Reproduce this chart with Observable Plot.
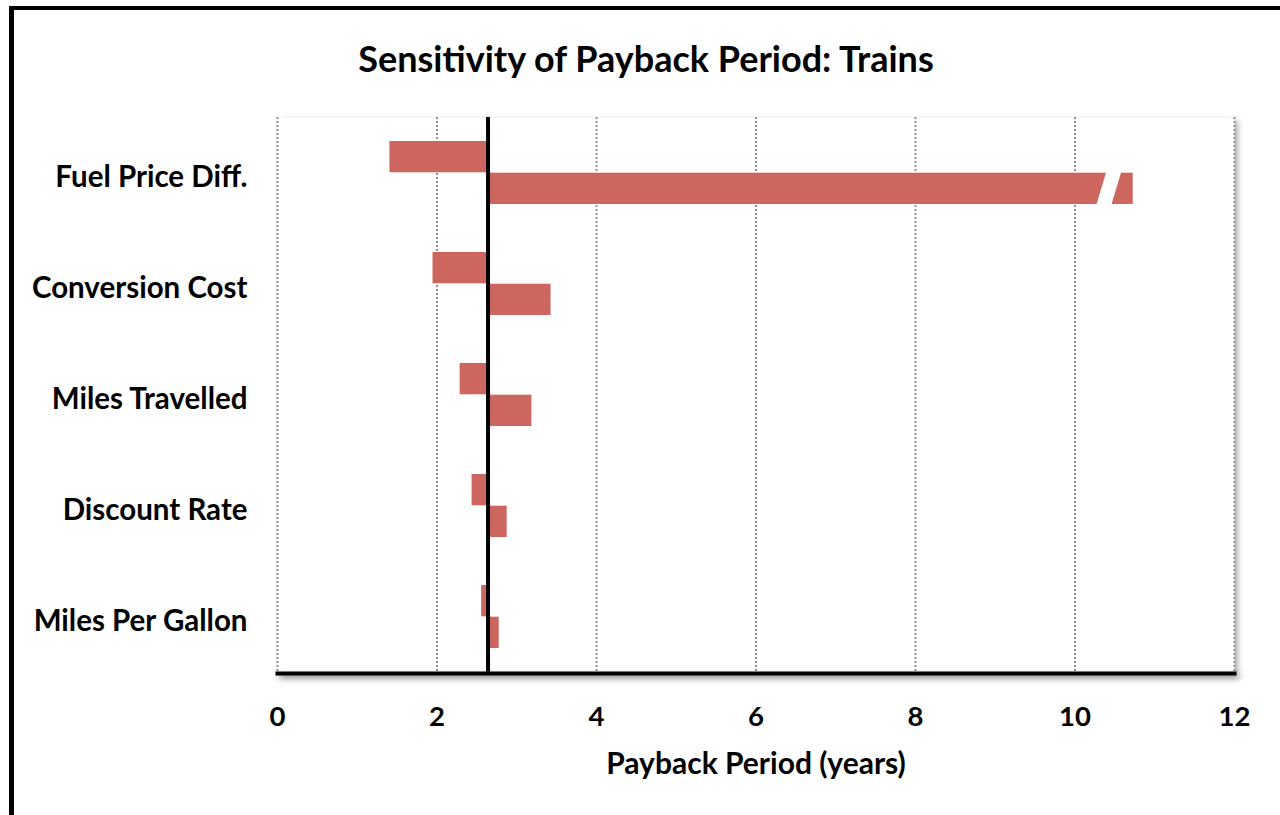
<!DOCTYPE html>
<html><head><meta charset="utf-8">
<script src="https://cdn.jsdelivr.net/npm/d3@7"></script>
<script src="https://cdn.jsdelivr.net/npm/@observablehq/plot@0.6"></script>
<style>
html,body{margin:0;padding:0;background:#fff;overflow:hidden;width:1280px;height:815px;}
#border{position:absolute;left:9px;top:6px;width:1400px;height:900px;border-left:5px solid #000;border-top:4px solid #000;}
#title{position:absolute;left:0;top:40px;width:1292px;text-align:center;font-family:Lato, sans-serif;font-weight:bold;font-size:36px;line-height:36px;color:#000;}
#chart{position:absolute;left:0;top:0;}
</style></head><body>
<div id="border"></div>
<div id="title">Sensitivity of Payback Period: Trains</div>
<div id="chart"></div>
<script>
const categories = ["Fuel Price Diff.", "Conversion Cost", "Miles Travelled", "Discount Rate", "Miles Per Gallon"];
const lowValues = [1.41, 1.95, 2.29, 2.44, 2.56];
const highValues = [10.73, 3.43, 3.19, 2.88, 2.78];
const baseValue = 2.64;
const xTicks = [0, 2, 4, 6, 8, 10, 12];
const breakCategory = "Fuel Price Diff.";
const breakValue = 10.43;
const xLabel = "Payback Period (years)";

const barColor = "#CD665F";
const W = 1280, H = 815, mt = 117, mb = 142, ml = 277, mr = 46;
const padIn = 0.43, padOut = 0.215;
const step = (H - mt - mb) / (categories.length - padIn + 2 * padOut);
const bw = step * (1 - padIn);
const half = bw / 2;

const rows = categories.map((c, i) => ({category: c, low: lowValues[i], high: highValues[i]}));

const plot = Plot.plot({
  width: W, height: H,
  marginTop: mt, marginBottom: mb, marginLeft: ml, marginRight: mr,
  style: {fontFamily: "Lato, sans-serif", color: "black", background: "transparent", overflow: "visible"},
  x: {domain: [0, 12]},
  y: {domain: categories, paddingInner: padIn, paddingOuter: padOut},
  marks: [
    Plot.frame({fill: "white", stroke: "none"}),
    Plot.ruleX(xTicks, {stroke: "#8f8f8f", strokeWidth: 2, strokeDasharray: "2,2"}),
    Plot.barX(rows, {y: "category", x1: "low", x2: () => baseValue, fill: barColor, insetBottom: half}),
    Plot.barX(rows, {y: "category", x1: () => baseValue, x2: "high", fill: barColor, insetTop: half}),
    Plot.ruleX([baseValue], {stroke: "black", strokeWidth: 4}),
    Plot.frame({anchor: "bottom", stroke: "black", strokeWidth: 4}),
    Plot.axisY({tickSize: 0, tickPadding: 30, dy: 5, fontSize: 29.5, fontWeight: "bold", label: null}),
    Plot.axisX({ticks: xTicks, tickSize: 0, tickPadding: 33, fontSize: 27.5, fontWeight: "bold", label: null}),
    Plot.text([xLabel], {text: d => d, frameAnchor: "bottom", dy: 100, fontSize: 30, fontWeight: "bold", fill: "black"})
  ]
});

const frames = plot.querySelectorAll('[aria-label="frame"]');
frames.forEach(f => { f.style.filter = "drop-shadow(3px 3px 3px rgba(0,0,0,0.35))"; });

// axis break on the long bar, positioned through the scales
const xs = plot.scale("x"), ys = plot.scale("y");
const yTop = ys.apply(breakCategory) + half - 1;
const yBot = ys.apply(breakCategory) + ys.bandwidth + 1;
const cx = xs.apply(breakValue);
const slant = 5, gap = 7.5;
d3.select(plot).append("polygon")
  .attr("fill", "white")
  .attr("points", [
    [cx + slant - gap, yTop], [cx + slant + gap, yTop],
    [cx - slant + gap, yBot], [cx - slant - gap, yBot]
  ].map(p => p.join(",")).join(" "));

document.getElementById("chart").appendChild(plot);
</script>
</body></html>
